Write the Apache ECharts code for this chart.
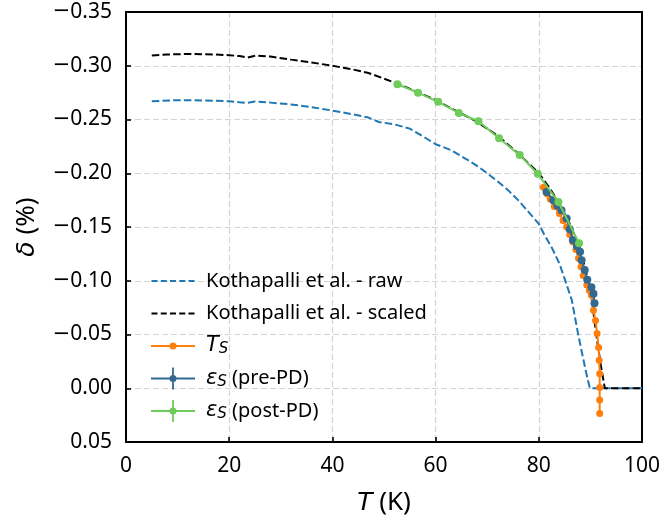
<!DOCTYPE html>
<html>
<head>
<meta charset="utf-8">
<script src="https://cdn.jsdelivr.net/npm/echarts@6/dist/echarts.min.js"></script>
<style>
  html, body { margin: 0; padding: 0; background: #fff; }
  #chart { width: 663px; height: 525px; }
</style>
</head>
<body>
<div id="chart"></div>
<script>
// Kothapalli et al. reference curve, as published (raw)
const rawT     = [5, 9, 13, 17, 20, 22, 23.5, 25, 28, 32, 36, 40, 44, 47, 49, 52, 55, 58, 60, 63, 66, 68.3, 70, 72, 74, 76, 78, 80, 81, 82.5, 84, 85, 86.4, 87.6, 88.5, 89.3, 89.9, 95, 100];
const rawDelta = [-0.267, -0.2678, -0.268, -0.2675, -0.267, -0.266, -0.2654, -0.2667, -0.2657, -0.264, -0.2615, -0.2583, -0.2548, -0.2518, -0.2477, -0.2455, -0.2415, -0.233, -0.227, -0.2215, -0.213, -0.206, -0.2, -0.1925, -0.1845, -0.175, -0.164, -0.153, -0.1435, -0.131, -0.116, -0.102, -0.082, -0.051, -0.03, -0.012, 0, 0, 0];

// Same curve rescaled onto the present data
const scaledT     = [5, 8, 13, 17, 20, 22, 23.5, 25.2, 28, 32, 36, 40, 44, 47, 50, 52.5, 56, 60, 64, 68, 72, 76, 80, 82, 84, 86, 88, 89, 90.2, 91.2, 92, 92.8, 96, 100];
const scaledDelta = [-0.3095, -0.3105, -0.311, -0.3105, -0.3098, -0.309, -0.3076, -0.3095, -0.3085, -0.3057, -0.303, -0.3, -0.2965, -0.2933, -0.288, -0.2835, -0.2765, -0.268, -0.258, -0.248, -0.235, -0.2185, -0.2, -0.187, -0.172, -0.153, -0.13, -0.112, -0.085, -0.048, -0.022, 0, 0, 0];

// T_S
const tsT     = [80.9, 81.6, 82.2, 83.0, 84.0, 84.7, 85.4, 86.0, 86.6, 87.2, 87.7, 88.2, 88.6, 89.3, 89.8, 90.2, 90.6, 91.0, 91.3, 91.6, 91.7, 91.8, 91.8, 91.8, 91.8];
const tsDelta = [-0.187, -0.181, -0.176, -0.169, -0.1625, -0.156, -0.15, -0.143, -0.136, -0.129, -0.121, -0.113, -0.105, -0.096, -0.091, -0.0865, -0.0726, -0.063, -0.051, -0.038, -0.026, -0.0136, -0.0006, 0.011, 0.0235];

// epsilon_S (pre-PD)
const preT     = [81.5, 82.8, 83.6, 84.4, 85.4, 86.0, 86.6, 87.4, 88.0, 88.3, 88.9, 89.4, 90.2, 90.6, 90.8];
const preDelta = [-0.1826, -0.175, -0.17, -0.1656, -0.158, -0.148, -0.138, -0.132, -0.127, -0.119, -0.11, -0.101, -0.094, -0.088, -0.079];
const preErr   = [0.002, 0.002, 0.002, 0.002, 0.002, 0.002, 0.002, 0.002, 0.002, 0.002, 0.002, 0.002, 0.002, 0.002, 0.002];

// epsilon_S (post-PD)
const postT     = [52.6, 56.6, 60.5, 64.5, 68.3, 72.3, 76.3, 79.8, 83.8, 87.8];
const postDelta = [-0.2828, -0.275, -0.2664, -0.2561, -0.2484, -0.2326, -0.217, -0.1995, -0.1733, -0.135];
const postErr   = [0.002, 0.002, 0.002, 0.002, 0.002, 0.002, 0.002, 0.002, 0.002, 0.002];

// Axis ranges
const xMin = 0, xMax = 100, xStep = 20;
const yMin = -0.35, yMax = 0.05, yStep = 0.05;

const FONT = 'Noto Sans';
const MATH = 'DejaVu Sans';
const C_RAW = '#1f77b4', C_SCALED = '#000000', C_TS = '#ff7f0e', C_PRE = '#33698f', C_POST = '#6dcc5a';

const zip = (xs, ys) => xs.map((x, i) => [x, ys[i]]);
const zipErr = (xs, ys, es) => xs.map((x, i) => [x, ys[i] - es[i], ys[i] + es[i]]);

function errorBars(color) {
  return function (params, api) {
    const p1 = api.coord([api.value(0), api.value(1)]);
    const p2 = api.coord([api.value(0), api.value(2)]);
    return {
      type: 'line',
      shape: { x1: p1[0], y1: p1[1], x2: p2[0], y2: p2[1] },
      style: { stroke: color, lineWidth: 1.6 }
    };
  };
}

// Legend glyphs (44 x 22 box); every sub-path wound clockwise so overlaps stay filled
function dashedIcon() {
  let d = '';
  for (let i = 0; i < 5; i++) {
    const x0 = i * 9.25;
    d += `M${x0} 10 L${x0 + 6} 10 L${x0 + 6} 12 L${x0} 12 Z `;
  }
  return 'path://' + d + 'M0 0 L0.01 0 Z M0 22 L0.01 22 Z';
}
const circle = 'M18.5 11 A3.5 3.5 0 1 1 25.5 11 A3.5 3.5 0 1 1 18.5 11 Z';
const lineDotIcon = 'path://M0 10.1 L44 10.1 L44 11.9 L0 11.9 Z ' + circle + ' M0 0 L0.01 0 Z M0 22 L0.01 22 Z';
const errDotIcon = 'path://M0 10.1 L44 10.1 L44 11.9 L0 11.9 Z M21.1 0 L22.9 0 L22.9 22 L21.1 22 Z ' + circle;

const legendNames = {
  'Kothapalli et al. - raw': '{n|Kothapalli et al. - raw}',
  'Kothapalli et al. - scaled': '{n|Kothapalli et al. - scaled}',
  'TS': '{it|T}{sub|S}',
  'εS (pre-PD)': '{it|ε}{sub|S}{n| (pre-PD)}',
  'εS (post-PD)': '{it|ε}{sub|S}{n| (post-PD)}'
};

const frameAxis = {
  axisLine: { show: true, onZero: false, lineStyle: { color: '#000', width: 2 } },
  axisTick: { show: false }, axisLabel: { show: false }, splitLine: { show: false }
};
const gridLines = { show: true, showMinLine: false, showMaxLine: false, lineStyle: { color: '#d4d4d4', width: 1.2, type: [6, 3] } };
const ticks = { show: true, inside: true, length: 5, lineStyle: { color: '#000', width: 1.6 } };
const nameStyle = {
  fontFamily: FONT, fontSize: 26, color: '#000',
  rich: { it: { fontFamily: MATH, fontSize: 25, fontStyle: 'italic', color: '#000' } }
};

const chart = echarts.init(document.getElementById('chart'), null, { renderer: 'canvas' });

chart.setOption({
  backgroundColor: '#ffffff',
  animation: false,
  textStyle: { fontFamily: FONT },
  grid: { left: 126, right: 19, top: 12, bottom: 83, show: false },
  xAxis: [
    {
      type: 'value', min: xMin, max: xMax, interval: xStep, position: 'bottom',
      name: '{it|T} (K)', nameLocation: 'middle', nameGap: 48, nameTextStyle: nameStyle,
      axisLine: { show: true, onZero: false, lineStyle: { color: '#000', width: 2 } },
      axisTick: ticks,
      axisLabel: { fontFamily: FONT, fontSize: 21, color: '#000', margin: 14 },
      splitLine: gridLines
    },
    Object.assign({ type: 'value', min: xMin, max: xMax, interval: xStep, position: 'top' }, frameAxis)
  ],
  yAxis: [
    {
      type: 'value', inverse: true, min: yMin, max: yMax, interval: yStep, position: 'left',
      name: '{it|δ} (%)', nameLocation: 'middle', nameGap: 86, nameRotate: 90, nameTextStyle: nameStyle,
      axisLine: { show: true, onZero: false, lineStyle: { color: '#000', width: 2 } },
      axisTick: ticks,
      axisLabel: {
        fontFamily: FONT, fontSize: 21, color: '#000', margin: 14,
        formatter: v => (v < -1e-9 ? '{m|\u2212}' : '') + Math.abs(v).toFixed(2),
        rich: { m: { fontFamily: MATH, fontSize: 21, color: '#000' } }
      },
      splitLine: gridLines
    },
    Object.assign({ type: 'value', inverse: true, min: yMin, max: yMax, interval: yStep, position: 'right' }, frameAxis)
  ],
  legend: {
    orient: 'vertical', left: 146, top: 265,
    itemWidth: 44, itemHeight: 22, itemGap: 10.5,
    selectedMode: false,
    textStyle: {
      fontFamily: FONT, fontSize: 20, color: '#000', padding: [0, 0, 0, 6],
      rich: {
        n: { fontFamily: FONT, fontSize: 20, color: '#000', lineHeight: 22, verticalAlign: 'middle' },
        it: { fontFamily: MATH, fontSize: 21, fontStyle: 'italic', color: '#000', lineHeight: 22, verticalAlign: 'middle' },
        sub: { fontFamily: MATH, fontSize: 15, fontStyle: 'italic', color: '#000', lineHeight: 12, verticalAlign: 'bottom' }
      }
    },
    formatter: name => legendNames[name] || name,
    data: [
      { name: 'Kothapalli et al. - raw', icon: dashedIcon(), itemStyle: { color: C_RAW } },
      { name: 'Kothapalli et al. - scaled', icon: dashedIcon(), itemStyle: { color: C_SCALED } },
      { name: 'TS', icon: lineDotIcon, itemStyle: { color: C_TS } },
      { name: 'εS (pre-PD)', icon: errDotIcon, itemStyle: { color: C_PRE } },
      { name: 'εS (post-PD)', icon: errDotIcon, itemStyle: { color: C_POST } }
    ]
  },
  series: [
    {
      name: 'Kothapalli et al. - raw', type: 'line', data: zip(rawT, rawDelta),
      symbol: 'none', z: 2, color: C_RAW,
      lineStyle: { color: C_RAW, width: 2, type: [7.5, 3.2] }
    },
    {
      name: 'Kothapalli et al. - scaled', type: 'line', data: zip(scaledT, scaledDelta),
      symbol: 'none', z: 3, color: C_SCALED,
      lineStyle: { color: C_SCALED, width: 2, type: [7.5, 3.2] }
    },
    {
      name: 'TS', type: 'line', data: zip(tsT, tsDelta), z: 4, color: C_TS,
      symbol: 'circle', symbolSize: 7,
      lineStyle: { color: C_TS, width: 2 }, itemStyle: { color: C_TS }
    },
    {
      name: 'pre-PD error', type: 'custom', data: zipErr(preT, preDelta, preErr), z: 5,
      encode: { x: 0, y: [1, 2] }, renderItem: errorBars(C_PRE)
    },
    {
      name: 'εS (pre-PD)', type: 'line', data: zip(preT, preDelta), z: 5, color: C_PRE,
      symbol: 'circle', symbolSize: 8,
      lineStyle: { color: C_PRE, width: 2 }, itemStyle: { color: C_PRE }
    },
    {
      name: 'post-PD error', type: 'custom', data: zipErr(postT, postDelta, postErr), z: 6,
      encode: { x: 0, y: [1, 2] }, renderItem: errorBars(C_POST)
    },
    {
      name: 'εS (post-PD)', type: 'line', data: zip(postT, postDelta), z: 6, color: C_POST,
      symbol: 'circle', symbolSize: 8,
      lineStyle: { color: C_POST, width: 2 }, itemStyle: { color: C_POST }
    }
  ]
});
</script>
</body>
</html>
